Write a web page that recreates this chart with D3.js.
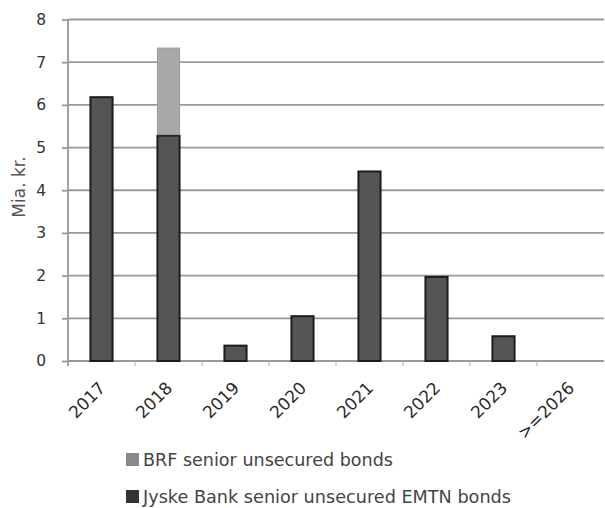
<!DOCTYPE html>
<html><head><meta charset="utf-8">
<script src="https://cdn.jsdelivr.net/npm/d3@7"></script>
<style>body{margin:0;background:#fff}svg{display:block}</style>
</head><body>
<script>
const categories = ["2017","2018","2019","2020","2021","2022","2023",">=2026"];
const jyske = [6.18, 5.28, 0.36, 1.05, 4.44, 1.97, 0.58, 0];
const brf = [0, 2.05, 0, 0, 0, 0, 0, 0];
const yTicks = [0,1,2,3,4,5,6,7,8];
const seriesNames = ["BRF senior unsecured bonds", "Jyske Bank senior unsecured EMTN bonds"];

const W = 605, H = 508;
const svg = d3.select("body").append("svg").attr("width", W).attr("height", H);

const x = d3.scaleBand().domain(categories).range([68, 604]).paddingInner(0.67).paddingOuter(0.335);
const xb = d3.scaleBand().domain(categories).range([68, 604]);
const y = d3.scaleLinear().domain([0, 8]).range([361, 19.5]);

// gridlines
svg.append("g").selectAll("line").data(yTicks.filter(d => d > 0)).join("line")
  .attr("x1", 68).attr("x2", 604).attr("y1", d => y(d)).attr("y2", d => y(d))
  .attr("stroke", "#999").attr("stroke-width", 1.8);

// y axis
const yAxis = svg.append("g").attr("transform", "translate(68,0)")
  .call(d3.axisLeft(y).tickValues(yTicks).tickSize(6).tickPadding(16).tickFormat(d3.format("d")));
yAxis.select(".domain").attr("stroke", "#999").attr("stroke-width", 1.8).attr("d", "M0,19.5V366");
yAxis.selectAll(".tick line").attr("stroke", "#999").attr("stroke-width", 1.8);
yAxis.selectAll("text").attr("font-family", "DejaVu Sans").attr("font-size", 15.5).attr("fill", "#333");

// x axis
const xAxisG = svg.append("g").attr("transform", "translate(0,361)");
xAxisG.append("line").attr("x1", 68).attr("x2", 604).attr("stroke", "#999").attr("stroke-width", 1.8);
xAxisG.selectAll("line.t").data(categories.slice(1)).join("line").attr("class", "t")
  .attr("x1", d => xb(d)).attr("x2", d => xb(d)).attr("y1", 0).attr("y2", 5)
  .attr("stroke", "#bbb").attr("stroke-width", 1.2);
xAxisG.selectAll("text").data(categories).join("text")
  .attr("transform", d => `translate(${xb(d) + xb.bandwidth()/2 + 5},28) rotate(-45)`)
  .attr("text-anchor", "end")
  .attr("font-family", "DejaVu Sans").attr("font-size", 17).attr("fill", "#2a2a2a")
  .text(d => d);

// bars - Jyske
svg.append("g").selectAll("rect").data(categories.map((c, i) => ({c, v: jyske[i]})).filter(d => d.v > 0)).join("rect")
  .attr("x", d => x(d.c)).attr("width", x.bandwidth())
  .attr("y", d => y(d.v)).attr("height", d => y(0) - y(d.v))
  .attr("fill", "#555").attr("stroke", "#1c1c1c").attr("stroke-width", 2);
// bars - BRF stacked
svg.append("g").selectAll("rect").data(categories.map((c, i) => ({c, b: jyske[i], v: brf[i]})).filter(d => d.v > 0)).join("rect")
  .attr("x", d => x(d.c)).attr("width", x.bandwidth())
  .attr("y", d => y(d.b + d.v)).attr("height", d => y(d.b) - y(d.b + d.v) - 1)
  .attr("fill", "#a8a8a8").attr("stroke", "#9a9a9a").attr("stroke-width", 1);

// y title
svg.append("text").attr("transform", "translate(25,187) rotate(-90)")
  .attr("text-anchor", "middle").attr("font-family", "DejaVu Sans").attr("font-size", 17)
  .attr("fill", "#555").text("Mia. kr.");

// legend
const legColors = ["#8a8a8a", "#333"];
const legY = [466, 503];
const legW = [250, 368];
const lg = svg.append("g");
seriesNames.forEach((n, i) => {
  lg.append("rect").attr("x", 126).attr("y", legY[i] - 13).attr("width", 13).attr("height", 13).attr("fill", legColors[i]);
  lg.append("text").attr("x", 143).attr("y", legY[i]).attr("font-family", "DejaVu Sans").attr("font-size", 17)
    .attr("fill", "#444").attr("textLength", legW[i]).attr("lengthAdjust", "spacingAndGlyphs").text(n);
});
</script>
</body></html>
